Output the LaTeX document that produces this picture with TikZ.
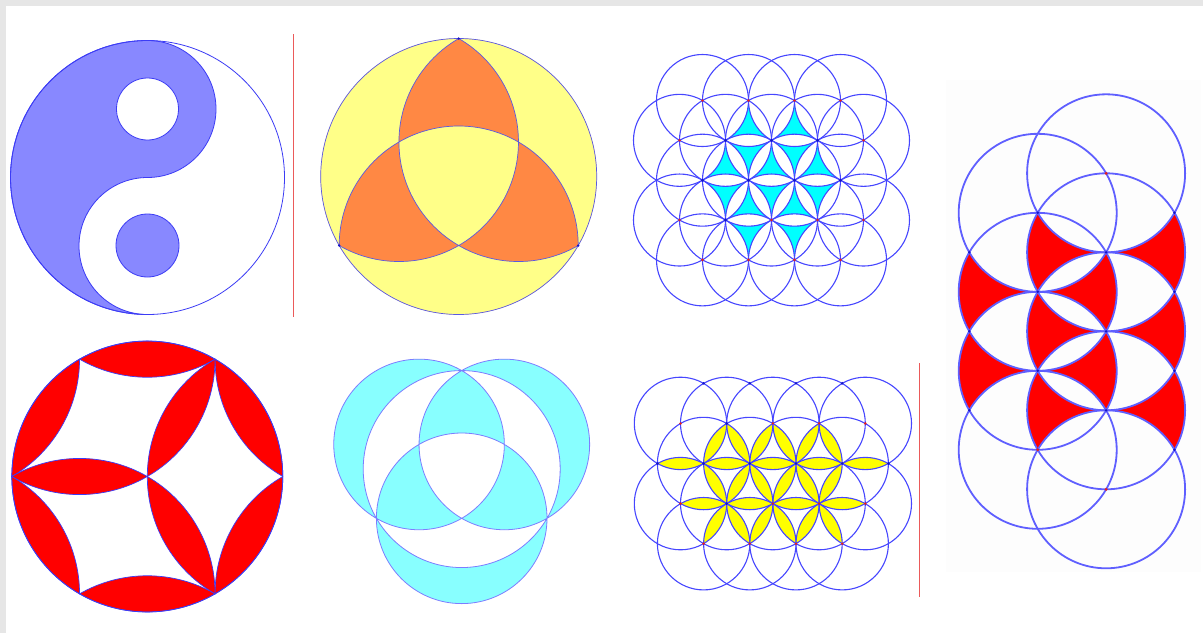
\documentclass[tikz,border=0pt]{standalone}
\usetikzlibrary{calc}
\definecolor{bggray}{RGB}{230,230,230}
\definecolor{yyblue}{RGB}{136,136,255}
\definecolor{yyline}{RGB}{60,60,245}
\definecolor{trqyel}{RGB}{255,255,136}
\definecolor{trqorg}{RGB}{255,136,68}
\definecolor{thinln}{RGB}{90,90,225}
\definecolor{gridln}{RGB}{70,70,255}
\definecolor{cyanfill}{RGB}{0,255,255}
\definecolor{ltcyan}{RGB}{136,255,255}
\definecolor{ltln}{RGB}{125,125,255}
\definecolor{yelfill}{RGB}{255,255,0}
\definecolor{redfill}{RGB}{255,0,0}
\definecolor{sepred}{RGB}{235,90,90}
\definecolor{figsevln}{RGB}{95,95,255}
\definecolor{dotred}{RGB}{230,30,30}
\definecolor{dotblue}{RGB}{20,20,200}
\definecolor{panelbg}{RGB}{253,253,253}
\tikzset{
  bl/.style={bend left=30,looseness=0.9126},
  br/.style={bend right=30,looseness=0.9126},
  gline/.style={draw=gridln,line width=1.1pt},
  sevline/.style={draw=figsevln,line width=1.8pt},
  rdot/.style={fill=dotred},
  bdot/.style={fill=dotblue},
  sepline/.style={draw=sepred,line width=1.1pt}
}
\begin{document}
\begin{tikzpicture}[x=1pt,y=-1pt]
\fill[bggray] (0,0) rectangle (1203,633);
\fill[white] (6,6) rectangle (1203,633);
\useasboundingbox (0,0) rectangle (1203,633);
\fill[panelbg] (946,80) rectangle (1201,572);

% separators
\coordinate (s1a) at (293.5,34); \coordinate (s1b) at (293.5,317);
\coordinate (s2a) at (919.5,363); \coordinate (s2b) at (919.5,597);
\draw[sepline] (s1a) -- (s1b);
\draw[sepline] (s2a) -- (s2b);

% ---------- Figure 1: yin-yang
\coordinate (yyc) at (147.5,177.5);
\fill[yyblue] (147.5,40.5) arc[start angle=270,end angle=90,radius=137]
  arc[start angle=90,end angle=270,radius=68.5]
  arc[start angle=90,end angle=-90,radius=68.5] -- cycle;
\draw[yyline,line width=0.8pt] (147.5,40.5) arc[start angle=270,end angle=90,radius=137]
  arc[start angle=90,end angle=270,radius=68.5]
  arc[start angle=90,end angle=-90,radius=68.5];
\draw[yyline,line width=0.8pt] (yyc) circle[radius=137];
\filldraw[fill=white,draw=yyline,line width=0.8pt] (147.5,109) circle[radius=31];
\filldraw[fill=yyblue,draw=yyline,line width=0.8pt] (147.5,245.5) circle[radius=31.5];

% ---------- Figure 2: triquetra in circle
\coordinate (oa) at (458.7,176.5);
\coordinate (ta) at (458.7,38.5);
\coordinate (lla) at (339.2,245.5);
\coordinate (lra) at (578.2,245.5);
\coordinate (ma) at (398.95,142);
\coordinate (mb) at (518.45,142);
\coordinate (pa) at (458.7,245.5);
\fill[trqyel] (oa) circle[radius=138];
\begin{scope}
  \clip (oa) circle[radius=138];
  \fill[trqorg,even odd rule] (oa) circle[radius=138] (ma) circle[radius=119.5]
     (mb) circle[radius=119.5] (pa) circle[radius=119.5];
  \draw[thinln,line width=0.7pt] (ma) circle[radius=119.5] (mb) circle[radius=119.5]
     (pa) circle[radius=119.5];
\end{scope}
\draw[thinln,line width=0.7pt] (oa) circle[radius=138];
\foreach \q in {ta,lla,lra} \fill[bdot] (\q) circle[radius=1.3];

% ---------- Figure 5: red lenses in circle
\coordinate (ho) at (147.3,476.5);
\foreach \a in {0,60,...,300} \coordinate (h\a) at ({147.3+135.5*cos(\a)},{476.5+135.5*sin(\a)});
\foreach \p/\q in {h0/h60,h60/h120,h120/h180,h180/h240,h240/h300,h300/h0,ho/h180,ho/h300,ho/h60}
  \filldraw[fill=redfill,draw=yyline,line width=0.7pt] (\p) to[bl] (\q) to[bl] (\p) -- cycle;
\draw[yyline,line width=0.7pt] (ho) circle[radius=135.5];

% ---------- Figure 6: three circles + circumcircle, even-odd cyan
\coordinate (gb) at (461.7,469.05);
\coordinate (mc) at (419.05,444.45);
\coordinate (md) at (504.35,444.45);
\coordinate (pb) at (461.7,518.3);
\fill[ltcyan,even odd rule] (gb) circle[radius=98.5] (mc) circle[radius=85.3]
   (md) circle[radius=85.3] (pb) circle[radius=85.3];
\draw[ltln,line width=0.8pt] (gb) circle[radius=98.5] (mc) circle[radius=85.3]
   (md) circle[radius=85.3] (pb) circle[radius=85.3];

% ---------- Figure 3: grid with cyan concave triangles
\foreach \j in {0,2,4}{\foreach \k in {0,...,3}{\coordinate (t\j\k) at ({771.5+46*(\k-1.5)},{100.5+39.84*\j});}}
\foreach \j in {1,3}{\foreach \k in {0,...,4}{\coordinate (t\j\k) at ({771.5+46*(\k-2)},{100.5+39.84*\j});}}
\foreach \a/\b/\c in {t01/t12/t11,t02/t13/t12,
   t11/t21/t20,t12/t22/t21,t13/t23/t22,t11/t12/t21,t12/t13/t22,
   t20/t21/t31,t21/t22/t32,t22/t23/t33,t21/t32/t31,t22/t33/t32,
   t31/t32/t41,t32/t33/t42}
  \fill[cyanfill] (\a) to[br] (\b) to[br] (\c) to[br] (\a) -- cycle;
\foreach \j in {0,2,4}{\foreach \k in {0,...,3}{\draw[gline] (t\j\k) circle[radius=46];}}
\foreach \j in {1,3}{\foreach \k in {0,...,4}{\draw[gline] (t\j\k) circle[radius=46];}}
\foreach \q in {t00,t01,t02,t03,t10,t14,t30,t32,t33,t34,t40,t41,t42,t43} \fill[rdot] (\q) circle[radius=1.4];
\foreach \q in {t11,t12,t13,t20,t21,t22,t23,t31} \fill[bdot] (\q) circle[radius=1.6];

% ---------- Figure 4: grid with yellow lenses
\foreach \k in {0,...,4}{\coordinate (yA\k) at ({772.9+46.2*(\k-2)},423.4); \coordinate (yC\k) at ({772.9+46.2*(\k-2)},503.6);}
\foreach \k in {0,...,5}{\coordinate (yB\k) at ({772.9+46.2*(\k-2.5)},463.5); \coordinate (yD\k) at ({772.9+46.2*(\k-2.5)},543.7); \coordinate (yZ\k) at ({772.9+46.2*(\k-2.5)},383.3);}
\foreach \p/\q in {yB0/yB1,yB1/yB2,yB2/yB3,yB3/yB4,yB4/yB5,
   yC0/yC1,yC1/yC2,yC2/yC3,yC3/yC4,
   yA1/yB1,yA1/yB2,yA2/yB2,yA2/yB3,yA3/yB3,yA3/yB4,
   yC1/yB1,yC1/yB2,yC2/yB2,yC2/yB3,yC3/yB3,yC3/yB4,
   yC1/yD1,yC1/yD2,yC2/yD2,yC2/yD3,yC3/yD3,yC3/yD4}
  \fill[yelfill] (\p) to[bl] (\q) to[bl] (\p) -- cycle;
\foreach \q in {yA0,yA1,yA2,yA3,yA4,yB1,yB2,yB3,yB4,yC0,yC1,yC2,yC3,yC4,yD1,yD2,yD3,yD4}
  \draw[gline] (\q) circle[radius=46.2];
\foreach \q in {yA0,yA2,yA3,yA4,yC0,yC2,yC3,yC4,yD1,yD2,yD3,yD4} \fill[rdot] (\q) circle[radius=1.4];
\foreach \q in {yZ1,yZ2,yZ3,yZ4,yA1,yB0,yB1,yB2,yB3,yB4,yB5,yC1} \fill[bdot] (\q) circle[radius=1.4];

% ---------- Figure 7: vertical strip with red shapes
\foreach \k in {1,2,3} \coordinate (ka\k) at (969.3,{173.3+79*\k});
\foreach \k in {0,...,3} {\coordinate (kb\k) at (1037.7,{212.8+79*\k}); \coordinate (ke\k) at (1174.5,{212.8+79*\k});}
\foreach \k in {0,...,4} \coordinate (kc\k) at (1106.1,{173.3+79*\k});
\foreach \a/\b/\c in {ka1/kb1/ka2,ka2/kb2/ka3,kb0/kc1/kb1,kb1/kc2/kb2,kb2/kc3/kb3,
   kc2/kb1/kc1,kc3/kb2/kc2,ke1/kc1/ke0,ke2/kc2/ke1,ke3/kc3/ke2}
  \fill[redfill] (\a) to[br] (\b) to[br] (\c) to[bl] (\a) -- cycle;
\foreach \q in {kb0,kb1,kb2,kb3,kc0,kc1,kc2,kc3,kc4} \draw[sevline] (\q) circle[radius=79];
\foreach \q in {kc0,kb3,kc4} \fill[rdot] (\q) circle[radius=1.6];
\foreach \q in {ka1,ka2,ka3,kb0,kb1,kb2,kc1,kc2,kc3,ke0,ke1,ke2,ke3} \fill[bdot] (\q) circle[radius=1.4];
\end{tikzpicture}
\end{document}
